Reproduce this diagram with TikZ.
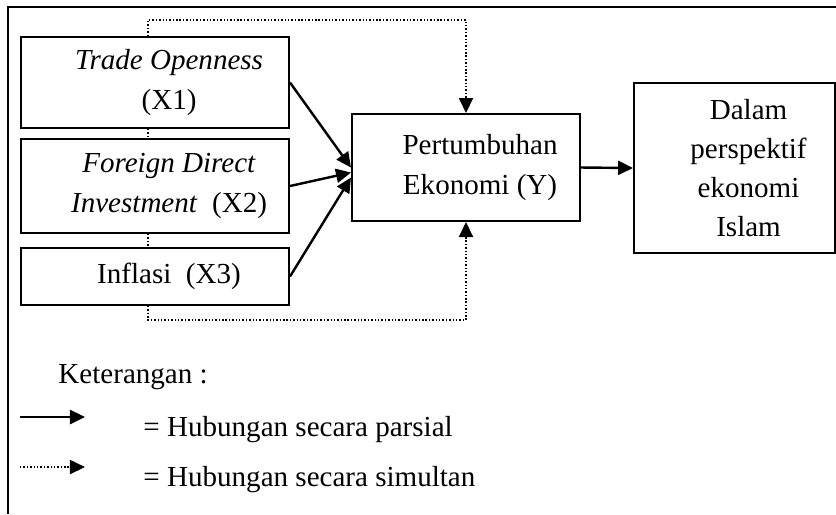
\documentclass[tikz,border=0pt]{standalone}
\usepackage{fontspec}
\setmainfont{Liberation Serif}
\usetikzlibrary{arrows.meta,calc}
\newcommand{\indt}{\hspace*{11.6pt}}
\tikzset{%
  tipA/.tip={Triangle[length=6.2pt,width=5.8pt]},
  varbox/.style={draw, line width=0.8pt, align=center, inner sep=2pt},
  partial/.style={line width=1pt, -tipA},
  simline/.style={line width=0.7pt, dash pattern=on 0.6pt off 0.8pt},
  simul/.style={simline, -tipA},
  legend/.style={anchor=west, inner sep=0pt}
}

\begin{document}
\begin{tikzpicture}[x=0.413pt,y=-0.413pt,font=\fontsize{12}{16.2}\selectfont]
\useasboundingbox (0,0) rectangle (836,514);
% frame
\draw[line width=0.8pt] (8,514) -- (8,7) -- (837,7);
% variables
\node[varbox, minimum width=110.7pt, minimum height=37.6pt] (X1) at (155,82.5) {\indt\textit{Trade Openness}\\\indt(X1)};
\node[varbox, minimum width=110.7pt, minimum height=38.8pt] (X2) at (155,186) {\indt\textit{Foreign Direct}\\\indt\textit{Investment}\ \ (X2)};
\node[varbox, minimum width=110.7pt, minimum height=23.5pt] (X3) at (155,276.5) {\indt Inflasi\ \ (X3)};
\node[varbox, minimum width=94.2pt, minimum height=44.2pt] (Y) at (466,167.5) {\indt Pertumbuhan\\\indt Ekonomi (Y)};
\node[varbox, minimum width=83pt, minimum height=70.2pt] (islam) at (734.5,168) {\indt Dalam\\\indt perspektif\\\indt ekonomi\\\indt Islam};
% simultaneous
\coordinate (top) at (148,20);
\coordinate (bot) at (148,320);
\draw[simul] (top |- X1.north) -- (top) -| (Y.north);
\draw[simline] (top |- X1.south) -- (top |- X2.north);
\draw[simline] (top |- X2.south) -- (top |- X3.north);
\draw[simul] (bot |- X3.south) -- (bot) -| (Y.south);
% partial
\draw[partial] (X1.east) -- ($(Y.west)+(0,0)$);
\draw[partial] (X2.east) -- ($(Y.west)+(0,5)$);
\draw[partial] (X3.east) -- ($(Y.west)+(0,10)$);
\draw[partial] (Y.east) -- (islam.west);
% legend
\node[legend] (ket) at (58,377) {Keterangan :};
\coordinate (pa1) at (20,417);
\coordinate (pa2) at (85,417);
\coordinate (si1) at (20,467);
\coordinate (si2) at (85,467);
\draw[partial] (pa1) -- (pa2);
\draw[simul] (si1) -- (si2);
\node[legend] (parsial) at (143,430) {= Hubungan secara parsial};
\node[legend] (simultan) at (143,480) {= Hubungan secara simultan};
\end{tikzpicture}
\end{document}
